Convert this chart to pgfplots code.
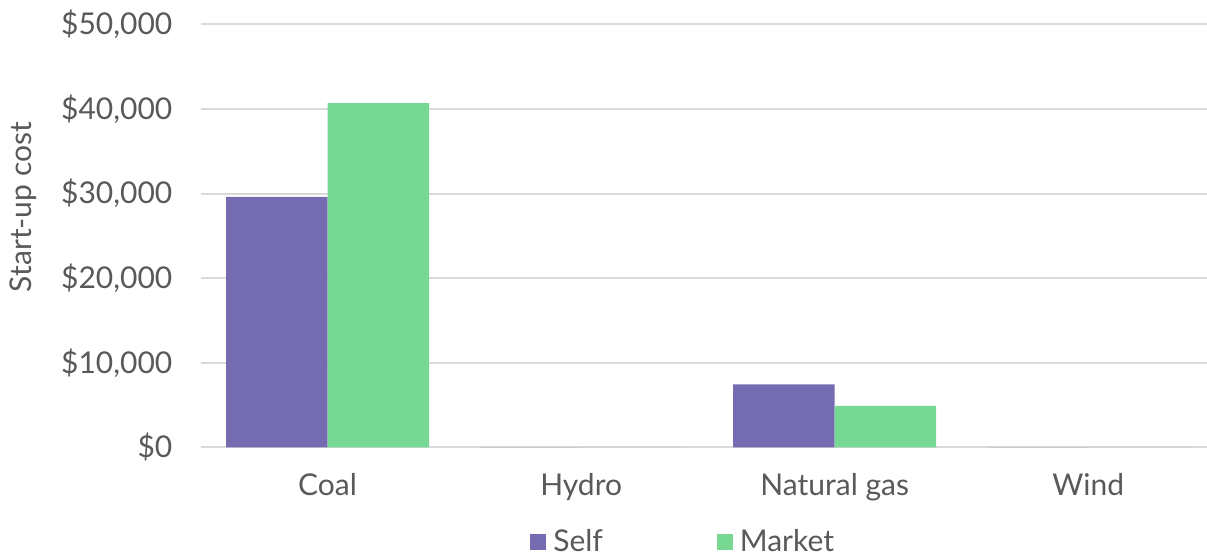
\documentclass[border=0pt]{standalone}
\usepackage{pgfplots}
\pgfplotsset{compat=1.18}
\usepackage{fontspec}
\setmainfont{Lato}
\definecolor{selfc}{HTML}{756BB1}
\definecolor{marketc}{HTML}{77D893}
\definecolor{gridc}{HTML}{D9D9D9}
\definecolor{txt}{HTML}{595959}
\begin{document}
\begin{tikzpicture}
\useasboundingbox (-100.4pt,-55.35pt) rectangle (503.1pt,223.7pt);
\begin{axis}[
  at={(0pt,0pt)}, anchor=south west,
  scale only axis,
  width=503.1pt, height=211.5pt,
  ybar=0pt, bar width=50.75pt,
  xmin=-0.5, xmax=3.468,
  ymin=0, ymax=50000,
  scaled y ticks=false,
  xtick=data,
  xticklabels={Coal,Hydro,Natural gas,Wind},
  ytick={0,10000,20000,30000,40000,50000},
  yticklabels={{\$0},{\$10,000},{\$20,000},{\$30,000},{\$40,000},{\$50,000}},
  /pgf/number format/assume math mode=true,
  axis line style={draw=none},
  major tick length=0pt,
  ymajorgrids,
  major grid style={color=gridc, line width=1pt},
  every tick label/.append style={font=\fontsize{15}{18}\selectfont, text=txt, inner sep=0pt},
  yticklabel style={xshift=-14pt},
  xticklabel style={yshift=-13pt},
  ylabel={Start-up cost},
  every axis y label/.style={at={(axis description cs:-0.1767,0.568)}, rotate=90, anchor=center, font=\fontsize{15}{18}\selectfont, text=txt},
  legend columns=2,
  legend style={at={(axis description cs:0.4784,-0.2239)}, anchor=center, draw=none, fill=none,
    inner sep=0pt, font=\fontsize{15}{18}\selectfont, text=txt,
    nodes={inner sep=0pt},
    /tikz/every odd column/.append style={column sep=3.5pt},
    /tikz/every even column/.append style={column sep=57pt}},
  legend image code/.code={\fill[#1] (0pt,-4pt) rectangle (8pt,4pt);},
]
\addplot[fill=selfc, draw=none] coordinates {(0,29600) (1,0) (2,7450) (3,0)};
\addplot[fill=marketc, draw=none] coordinates {(0,40700) (1,0) (2,4900) (3,0)};
\legend{Self,Market}
\end{axis}
\end{tikzpicture}
\end{document}
